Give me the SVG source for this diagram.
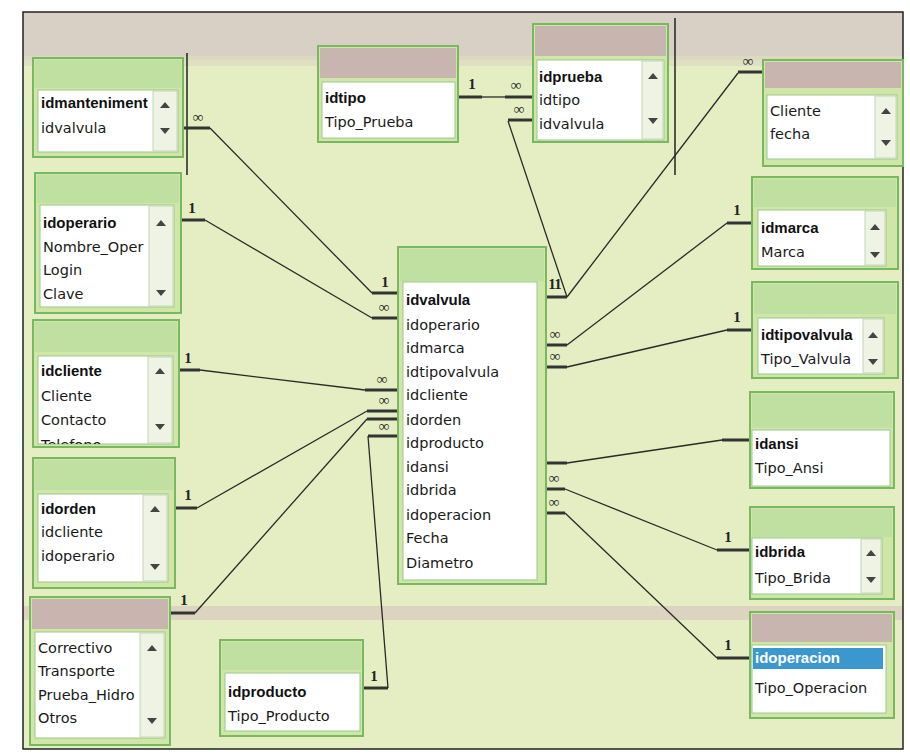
<svg xmlns="http://www.w3.org/2000/svg" width="910" height="755" viewBox="0 0 910 755">
<style>
.bgg{fill:#e4eec2}
.box{fill:#cfe6a6;stroke:#78b860;stroke-width:2}
.title{fill:#bfe0a0}
.titlep{fill:#c9b5b0}
.list{fill:#ffffff;stroke:#9cc890;stroke-width:1}
.sb{fill:#eef3e4;stroke:#c4d6b4;stroke-width:1}
.arr{fill:#444}
.t{font-family:"DejaVu Sans","Liberation Sans",sans-serif;font-size:14.5px;fill:#1a1a1a}
.k{font-family:"Liberation Sans","DejaVu Sans",sans-serif;font-size:15px;font-weight:bold;fill:#111}
.lbl{font-family:"Liberation Serif","DejaVu Serif",serif;font-size:15px;font-weight:bold;fill:#222;text-anchor:middle}
.ln{stroke:#2a2a2a;stroke-width:1.3;fill:none}
.stub{stroke:#333;stroke-width:3;fill:none}
.edge{stroke:#222;stroke-width:1.5;fill:none}
</style>
<defs>
<clipPath id="c1"><rect x="38" y="90" width="114" height="60"/></clipPath>
<clipPath id="c3"><rect x="38" y="356" width="110" height="88"/></clipPath>
</defs>
<rect x="0" y="0" width="910" height="755" fill="#ffffff"/>
<rect x="23" y="12" width="880" height="737" class="bgg"/>
<rect x="23" y="12" width="880" height="48" fill="#d8d0c4"/>
<rect x="23" y="56" width="880" height="10" fill="#dcdcc0" opacity="0.8"/>
<rect x="23" y="606" width="880" height="14" fill="#d8c8c0" opacity="0.7"/>
<rect x="23" y="12" width="880" height="737" class="edge"/>
<line x1="187" y1="53" x2="187" y2="175" class="edge"/>
<line x1="675" y1="18" x2="675" y2="175" class="edge" stroke-width="1"/>

<g id="connectors">
<line x1="183" y1="128" x2="210" y2="128" class="stub"/>
<text x="198" y="122" class="lbl">∞</text>
<line x1="210" y1="128" x2="372" y2="293" class="ln"/>
<line x1="372" y1="293" x2="398" y2="293" class="stub"/>
<text x="385" y="287" class="lbl">1</text>

<line x1="181" y1="220" x2="205" y2="220" class="stub"/>
<text x="192" y="213" class="lbl">1</text>
<line x1="205" y1="220" x2="372" y2="318" class="ln"/>
<line x1="372" y1="318" x2="398" y2="318" class="stub"/>
<text x="384" y="312" class="lbl">∞</text>

<line x1="178" y1="370" x2="200" y2="370" class="stub"/>
<text x="188" y="363" class="lbl">1</text>
<line x1="200" y1="370" x2="365" y2="390" class="ln"/>
<line x1="365" y1="390" x2="398" y2="390" class="stub"/>
<text x="382" y="384" class="lbl">∞</text>

<line x1="175" y1="508" x2="197" y2="508" class="stub"/>
<text x="188" y="500" class="lbl">1</text>
<line x1="197" y1="508" x2="367" y2="411" class="ln"/>
<line x1="367" y1="411" x2="398" y2="411" class="stub"/>
<text x="384" y="405" class="lbl">∞</text>

<line x1="170" y1="613" x2="195" y2="613" class="stub"/>
<text x="184" y="605" class="lbl">1</text>
<line x1="195" y1="613" x2="367" y2="419" class="ln"/>
<line x1="367" y1="419" x2="398" y2="419" class="stub"/>

<line x1="362" y1="688" x2="388" y2="688" class="stub"/>
<text x="374" y="681" class="lbl">1</text>
<line x1="388" y1="688" x2="368" y2="436" class="ln"/>
<line x1="368" y1="436" x2="398" y2="436" class="stub"/>
<text x="384" y="431" class="lbl">∞</text>

<line x1="457" y1="97" x2="482" y2="97" class="stub"/>
<text x="472" y="89" class="lbl">1</text>
<line x1="482" y1="97" x2="505" y2="97" class="ln"/>
<line x1="505" y1="97" x2="535" y2="97" class="stub"/>
<text x="516" y="90" class="lbl">∞</text>

<line x1="508" y1="120" x2="535" y2="120" class="stub"/>
<text x="519" y="114" class="lbl">∞</text>
<line x1="508" y1="121" x2="567" y2="297" class="ln"/>

<line x1="738" y1="72" x2="763" y2="72" class="stub"/>
<text x="748" y="66" class="lbl">∞</text>
<line x1="738" y1="73" x2="567" y2="297" class="ln"/>
<line x1="546" y1="297" x2="567" y2="297" class="stub"/>
<text x="552" y="289" class="lbl">1</text>
<text x="558" y="289" class="lbl">1</text>

<line x1="727" y1="223" x2="752" y2="223" class="stub"/>
<text x="737" y="215" class="lbl">1</text>
<line x1="727" y1="223" x2="567" y2="345" class="ln"/>
<line x1="546" y1="345" x2="567" y2="345" class="stub"/>
<text x="555" y="339" class="lbl">∞</text>

<line x1="727" y1="330" x2="752" y2="330" class="stub"/>
<text x="737" y="322" class="lbl">1</text>
<line x1="727" y1="330" x2="567" y2="367" class="ln"/>
<line x1="546" y1="367" x2="567" y2="367" class="stub"/>
<text x="555" y="361" class="lbl">∞</text>

<line x1="722" y1="440" x2="750" y2="440" class="stub"/>
<line x1="722" y1="440" x2="567" y2="463" class="ln"/>
<line x1="546" y1="463" x2="567" y2="463" class="stub"/>

<line x1="717" y1="550" x2="750" y2="550" class="stub"/>
<text x="728" y="542" class="lbl">1</text>
<line x1="717" y1="550" x2="565" y2="489" class="ln"/>
<line x1="546" y1="489" x2="565" y2="489" class="stub"/>
<text x="554" y="483" class="lbl">∞</text>

<line x1="717" y1="658" x2="750" y2="658" class="stub"/>
<text x="728" y="650" class="lbl">1</text>
<line x1="717" y1="658" x2="565" y2="513" class="ln"/>
<line x1="546" y1="513" x2="565" y2="513" class="stub"/>
<text x="554" y="507" class="lbl">∞</text>
</g>

<g id="mantenimiento">
<rect x="33" y="58" width="150" height="99" class="box"/>
<rect x="35" y="60" width="146" height="28" class="title"/>
<rect x="38" y="90" width="140" height="62" class="list"/>
<rect x="153" y="91" width="24" height="60" class="sb"/>
<polygon points="160,108 170,108 165,102" class="arr"/>
<polygon points="160,128 170,128 165,134" class="arr"/>
<g clip-path="url(#c1)">
<text x="41" y="108" class="k">idmanteniment</text>
<text x="41" y="133" class="t">idvalvula</text>
</g>
</g>

<g id="operario">
<rect x="35" y="173" width="146" height="140" class="box"/>
<rect x="37" y="175" width="142" height="28" class="title"/>
<rect x="40" y="205" width="134" height="102" class="list"/>
<rect x="149" y="206" width="24" height="100" class="sb"/>
<polygon points="156,226 166,226 161,220" class="arr"/>
<polygon points="156,290 166,290 161,296" class="arr"/>
<text x="43" y="228" class="k">idoperario</text>
<text x="43" y="252" class="t">Nombre_Oper</text>
<text x="43" y="275" class="t">Login</text>
<text x="43" y="299" class="t">Clave</text>
</g>

<g id="clientes">
<rect x="33" y="320" width="146" height="127" class="box"/>
<rect x="35" y="322" width="142" height="30" class="title"/>
<rect x="38" y="356" width="135" height="88" class="list"/>
<rect x="148" y="357" width="24" height="86" class="sb"/>
<polygon points="155,374 165,374 160,368" class="arr"/>
<polygon points="155,424 165,424 160,430" class="arr"/>
<g clip-path="url(#c3)">
<text x="41" y="376" class="k">idcliente</text>
<text x="41" y="401" class="t">Cliente</text>
<text x="41" y="425" class="t">Contacto</text>
<text x="41" y="450" class="t">Telefono</text>
</g>
</g>

<g id="orden">
<rect x="33" y="458" width="142" height="130" class="box"/>
<rect x="35" y="460" width="138" height="30" class="title"/>
<rect x="38" y="494" width="130" height="88" class="list"/>
<rect x="143" y="495" width="24" height="86" class="sb"/>
<polygon points="150,512 160,512 155,506" class="arr"/>
<polygon points="150,564 160,564 155,570" class="arr"/>
<text x="41" y="514" class="k">idorden</text>
<text x="41" y="537" class="t">idcliente</text>
<text x="41" y="561" class="t">idoperario</text>
</g>

<g id="tipo_mantenimiento">
<rect x="30" y="597" width="140" height="148" class="box"/>
<rect x="32" y="599" width="136" height="30" class="titlep"/>
<rect x="35" y="632" width="130" height="106" class="list"/>
<rect x="140" y="633" width="24" height="104" class="sb"/>
<polygon points="147,651 157,651 152,645" class="arr"/>
<polygon points="147,718 157,718 152,724" class="arr"/>
<text x="38" y="653" class="t">Correctivo</text>
<text x="38" y="676" class="t">Transporte</text>
<text x="38" y="700" class="t">Prueba_Hidro</text>
<text x="38" y="723" class="t">Otros</text>
</g>

<g id="tipo_producto">
<rect x="220" y="640" width="143" height="96" class="box"/>
<rect x="222" y="642" width="139" height="28" class="title"/>
<rect x="225" y="673" width="135" height="58" class="list"/>
<text x="228" y="697" class="k">idproducto</text>
<text x="228" y="721" class="t">Tipo_Producto</text>
</g>

<g id="tipo_prueba">
<rect x="318" y="46" width="140" height="96" class="box"/>
<rect x="320" y="48" width="136" height="30" class="titlep"/>
<rect x="322" y="82" width="133" height="56" class="list"/>
<text x="325" y="103" class="k">idtipo</text>
<text x="325" y="127" class="t">Tipo_Prueba</text>
</g>

<g id="pruebas">
<rect x="533" y="24" width="135" height="118" class="box"/>
<rect x="535" y="26" width="131" height="30" class="titlep"/>
<rect x="537" y="60" width="127" height="80" class="list"/>
<rect x="642" y="61" width="21" height="78" class="sb"/>
<polygon points="648,79 658,79 653,73" class="arr"/>
<polygon points="648,118 658,118 653,124" class="arr"/>
<text x="539" y="82" class="k">idprueba</text>
<text x="539" y="105" class="t">idtipo</text>
<text x="539" y="129" class="t">idvalvula</text>
</g>

<g id="reporte">
<rect x="763" y="60" width="140" height="106" class="box"/>
<rect x="765" y="62" width="136" height="26" class="titlep"/>
<rect x="767" y="95" width="130" height="64" class="list"/>
<rect x="875" y="96" width="21" height="62" class="sb"/>
<polygon points="881,114 891,114 886,108" class="arr"/>
<polygon points="881,140 891,140 886,146" class="arr"/>
<text x="770" y="116" class="t">Cliente</text>
<text x="770" y="139" class="t">fecha</text>
</g>

<g id="marca">
<rect x="752" y="177" width="146" height="92" class="box"/>
<rect x="754" y="179" width="142" height="28" class="title"/>
<rect x="758" y="210" width="128" height="56" class="list"/>
<rect x="865" y="211" width="20" height="54" class="sb"/>
<polygon points="870,230 880,230 875,224" class="arr"/>
<polygon points="870,252 880,252 875,258" class="arr"/>
<text x="761" y="233" class="k">idmarca</text>
<text x="761" y="257" class="t">Marca</text>
</g>

<g id="tipo_valvula">
<rect x="752" y="282" width="146" height="96" class="box"/>
<rect x="754" y="284" width="142" height="30" class="title"/>
<rect x="758" y="318" width="126" height="56" class="list"/>
<rect x="863" y="319" width="20" height="54" class="sb"/>
<polygon points="868,338 878,338 873,332" class="arr"/>
<polygon points="868,359 878,359 873,365" class="arr"/>
<text x="761" y="340" class="k">idtipovalvula</text>
<text x="761" y="364" class="t">Tipo_Valvula</text>
</g>

<g id="tipo_ansi">
<rect x="750" y="392" width="144" height="96" class="box"/>
<rect x="752" y="394" width="140" height="34" class="title"/>
<rect x="752" y="430" width="138" height="56" class="list"/>
<text x="755" y="449" class="k">idansi</text>
<text x="755" y="473" class="t">Tipo_Ansi</text>
</g>

<g id="tipo_brida">
<rect x="750" y="507" width="144" height="92" class="box"/>
<rect x="752" y="509" width="140" height="28" class="title"/>
<rect x="752" y="538" width="130" height="56" class="list"/>
<rect x="861" y="539" width="20" height="54" class="sb"/>
<polygon points="866,556 876,556 871,550" class="arr"/>
<polygon points="866,577 876,577 871,583" class="arr"/>
<text x="755" y="557" class="k">idbrida</text>
<text x="755" y="583" class="t">Tipo_Brida</text>
</g>

<g id="tipo_operacion">
<rect x="750" y="612" width="144" height="106" class="box"/>
<rect x="752" y="614" width="140" height="28" class="titlep"/>
<rect x="752" y="645" width="134" height="68" class="list"/>
<rect x="753" y="648" width="130" height="21" fill="#3b98cf"/>
<text x="755" y="663" class="k" style="fill:#ffffff">idoperacion</text>
<text x="755" y="693" class="t">Tipo_Operacion</text>
</g>

<g id="valvula">
<rect x="398" y="247" width="148" height="337" class="box"/>
<rect x="400" y="249" width="144" height="32" class="title"/>
<rect x="403" y="282" width="134" height="298" class="list"/>
<text x="406" y="305" class="k">idvalvula</text>
<text x="406" y="330" class="t">idoperario</text>
<text x="406" y="353" class="t">idmarca</text>
<text x="406" y="377" class="t">idtipovalvula</text>
<text x="406" y="400" class="t">idcliente</text>
<text x="406" y="425" class="t">idorden</text>
<text x="406" y="448" class="t">idproducto</text>
<text x="406" y="472" class="t">idansi</text>
<text x="406" y="495" class="t">idbrida</text>
<text x="406" y="520" class="t">idoperacion</text>
<text x="406" y="543" class="t">Fecha</text>
<text x="406" y="568" class="t">Diametro</text>
</g>
</svg>
